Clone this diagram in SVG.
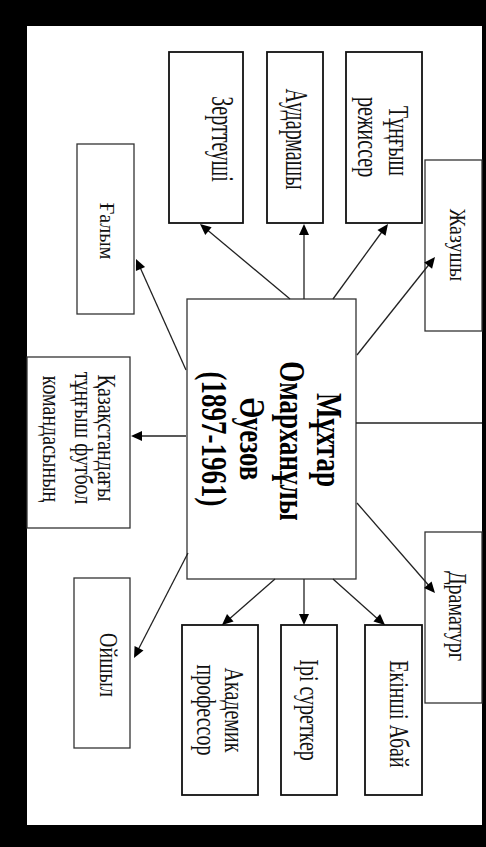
<svg xmlns="http://www.w3.org/2000/svg" xmlns:xlink="http://www.w3.org/1999/xlink" width="486" height="847" viewBox="0 0 486 847">
<style>
.box{fill:#fff;stroke:#333;stroke-width:1.3}
.bx2{fill:#fff;stroke:#111;stroke-width:1.8}
.t{font-family:"Liberation Serif","Times New Roman",serif;font-size:20px;fill:#111;text-anchor:middle}
.c{font-family:"Liberation Serif","Times New Roman",serif;font-size:27px;font-weight:bold;fill:#000;text-anchor:middle}
.ln{stroke:#222;stroke-width:1.3;fill:none}
.ah{fill:#000;stroke:none}
</style>
<defs>
<path id="arrow" class="ah" d="M0,0 L-11,-5 L-11,5 z"/>
</defs>
<rect x="0" y="0" width="486" height="847" fill="#000"/>
<rect x="27" y="26" width="455" height="799" fill="#fff"/>

<g id="center">
<rect class="box" x="187" y="299" width="169" height="280"/>
<text class="c" transform="translate(317,440) rotate(90) scale(1,1.3)">Мұхтар</text>
<text class="c" transform="translate(280,441) rotate(90) scale(1,1.3)">Омарханұлы</text>
<text class="c" transform="translate(240,439) rotate(90) scale(1,1.3)">Әуезов</text>
<text class="c" transform="translate(202,439) rotate(90) scale(1,1.3)">(1897-1961)</text>
</g>

<g id="zertteushi">
<rect class="bx2" x="169" y="52" width="74" height="171"/>
<text class="t" transform="translate(212,139) rotate(90) scale(1,1.6)">Зерттеуші</text>
</g>
<g id="audarmashy">
<rect class="bx2" x="267" y="52" width="56" height="171"/>
<text class="t" transform="translate(286,139) rotate(90) scale(1,1.6)">Аудармашы</text>
</g>
<g id="tungysh">
<rect class="bx2" x="346" y="52" width="76" height="171"/>
<text class="t" transform="translate(389,141) rotate(90) scale(1,1.5)">Тұңғыш</text>
<text class="t" transform="translate(358,137) rotate(90) scale(1,1.5)">режиссер</text>
</g>
<g id="galym">
<rect class="box" x="77" y="144" width="57" height="170"/>
<text class="t" transform="translate(100,231) rotate(90) scale(1,1.1)">Ғалым</text>
</g>
<g id="zhazushy">
<rect class="box" x="425" y="160" width="57" height="171"/>
<text class="t" transform="translate(450,245) rotate(90) scale(1,1.15)">Жазушы</text>
</g>
<g id="kazakhstan">
<rect class="box" x="27" y="357" width="103" height="171"/>
<text class="t" font-size="19" transform="translate(98,438) rotate(90) scale(1,1.3)">Қазақстандағы</text>
<text class="t" font-size="19" transform="translate(75,438) rotate(90) scale(1,1.3)">тұңғыш  футбол</text>
<text class="t" font-size="19" transform="translate(43,439) rotate(90) scale(1,1.3)">командасының</text>
</g>
<g id="dramaturg">
<rect class="box" x="425" y="532" width="57" height="171"/>
<text class="t" transform="translate(449,616) rotate(90) scale(1,1.3)">Драматург</text>
</g>
<g id="oishyl">
<rect class="box" x="74" y="578" width="56" height="170"/>
<text class="t" transform="translate(100,665) rotate(90) scale(1,1.3)">Ойшыл</text>
</g>
<g id="akademik">
<rect class="bx2" x="182" y="625" width="76" height="170"/>
<text class="t" transform="translate(225,710) rotate(90) scale(1,1.4)">Академик</text>
<text class="t" transform="translate(197,710) rotate(90) scale(1,1.4)">профессор</text>
</g>
<g id="iri">
<rect class="bx2" x="281" y="625" width="56" height="170"/>
<text class="t" transform="translate(300,710) rotate(90) scale(1,1.4)">Ірі  суреткер</text>
</g>
<g id="ekinshi">
<rect class="bx2" x="365" y="625" width="57" height="170"/>
<text class="t" transform="translate(390,714) rotate(90) scale(1,1.4)">Екінші  Абай</text>
</g>

<g id="connectors">
<line class="ln" x1="290" y1="299" x2="205" y2="228"/>
<use href="#arrow" xlink:href="#arrow" transform="translate(200,224) rotate(-140.2)"/>
<line class="ln" x1="304" y1="299" x2="304" y2="230"/>
<use href="#arrow" xlink:href="#arrow" transform="translate(304,224) rotate(-90)"/>
<line class="ln" x1="333" y1="299" x2="384" y2="229"/>
<use href="#arrow" xlink:href="#arrow" transform="translate(388,224) rotate(-53.7)"/>
<line class="ln" x1="186" y1="370" x2="139" y2="265"/>
<use href="#arrow" xlink:href="#arrow" transform="translate(136,259) rotate(-114.2)"/>
<line class="ln" x1="357" y1="355" x2="431" y2="262"/>
<use href="#arrow" xlink:href="#arrow" transform="translate(435,257) rotate(-51.5)"/>
<line class="ln" x1="186" y1="436" x2="137" y2="436"/>
<use href="#arrow" xlink:href="#arrow" transform="translate(131,436) rotate(180)"/>
<line class="ln" x1="356" y1="423" x2="482" y2="423"/>
<line class="ln" x1="357" y1="503" x2="431" y2="588"/>
<use href="#arrow" xlink:href="#arrow" transform="translate(435,593) rotate(49.1)"/>
<line class="ln" x1="188" y1="553" x2="137" y2="652"/>
<use href="#arrow" xlink:href="#arrow" transform="translate(134,658) rotate(117.2)"/>
<line class="ln" x1="275" y1="579" x2="227" y2="621"/>
<use href="#arrow" xlink:href="#arrow" transform="translate(222,625) rotate(139)"/>
<line class="ln" x1="304" y1="579" x2="304" y2="619"/>
<use href="#arrow" xlink:href="#arrow" transform="translate(304,625) rotate(90)"/>
<line class="ln" x1="333" y1="579" x2="380" y2="621"/>
<use href="#arrow" xlink:href="#arrow" transform="translate(385,625) rotate(41.5)"/>
</g>
</svg>
